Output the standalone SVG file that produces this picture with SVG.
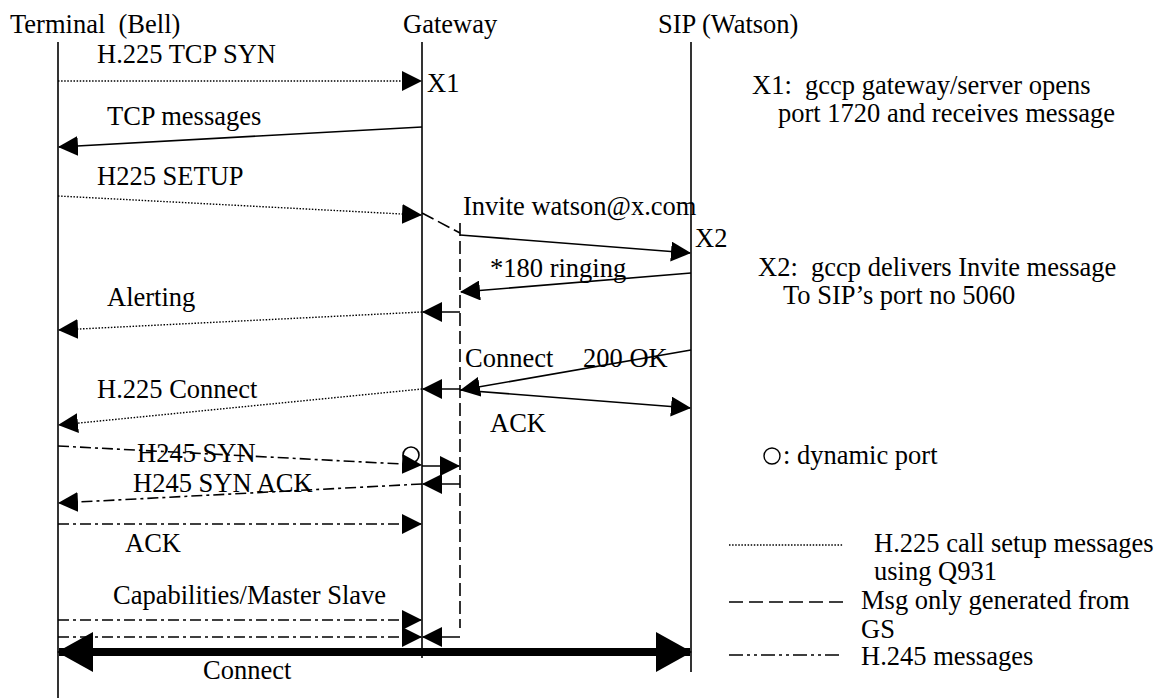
<svg xmlns="http://www.w3.org/2000/svg" width="1162" height="698" viewBox="0 0 1162 698">
<style>
text{font-family:"Liberation Serif","Times New Roman",serif;font-size:26.5px;fill:#000;white-space:pre}
.life{stroke:#000;stroke-width:1.6;fill:none}
.solid{stroke:#000;stroke-width:1.6;fill:none}
.dot{stroke:#000;stroke-width:1.4;fill:none;stroke-dasharray:1.5 1.6}
.dash{stroke:#000;stroke-width:1.6;fill:none;stroke-dasharray:13 5}
.dd{stroke:#000;stroke-width:1.6;fill:none;stroke-dasharray:11 4 3 4}
.thick{stroke:#000;stroke-width:8;fill:none}
</style>
<defs>
<marker id="ah" markerUnits="userSpaceOnUse" markerWidth="20" markerHeight="20" refX="19" refY="10" orient="auto">
<path d="M0,0 L20,10 L0,20 Z" fill="#000"/>
</marker>
<marker id="big" markerUnits="userSpaceOnUse" markerWidth="36" markerHeight="40" refX="34" refY="20" orient="auto-start-reverse">
<path d="M0,0 L36,20 L0,40 Z" fill="#000"/>
</marker>
</defs>
<rect width="1162" height="698" fill="#fff"/>

<g id="terminal">
<text x="10" y="33">Terminal  (Bell)</text>
<line class="life" x1="58" y1="42" x2="58" y2="698"/>
</g>
<g id="gateway">
<text x="403" y="33">Gateway</text>
<line class="life" x1="422" y1="42" x2="422" y2="658"/>
</g>
<g id="sip">
<text x="658" y="33">SIP (Watson)</text>
<line class="life" x1="691" y1="42" x2="691" y2="672"/>
</g>
<g id="gs">
<line class="dash" x1="460" y1="223" x2="460" y2="628"/>
</g>

<g id="connectors">
<line class="dot" x1="58" y1="81" x2="421" y2="81" marker-end="url(#ah)"/>
<line class="solid" x1="422" y1="127" x2="59" y2="147" marker-end="url(#ah)"/>
<line class="dot" x1="58" y1="196" x2="421" y2="215" marker-end="url(#ah)"/>
<line class="dash" x1="422" y1="213" x2="460" y2="233"/>
<line class="solid" x1="460" y1="235" x2="690" y2="253" marker-end="url(#ah)"/>
<line class="solid" x1="691" y1="273" x2="461" y2="292" marker-end="url(#ah)"/>
<line class="solid" x1="460" y1="312" x2="423" y2="312" marker-end="url(#ah)"/>
<line class="dot" x1="422" y1="312" x2="59" y2="330" marker-end="url(#ah)"/>
<line class="solid" x1="691" y1="350" x2="461" y2="390" marker-end="url(#ah)"/>
<line class="solid" x1="460" y1="390" x2="690" y2="408" marker-end="url(#ah)"/>
<line class="solid" x1="460" y1="389" x2="423" y2="389" marker-end="url(#ah)"/>
<line class="dot" x1="422" y1="389" x2="59" y2="425" marker-end="url(#ah)"/>
<line class="dd" x1="58" y1="446" x2="421" y2="465" marker-end="url(#ah)"/>
<circle cx="411" cy="455" r="8" fill="none" stroke="#000" stroke-width="1.6"/>
<line class="solid" x1="422" y1="466" x2="459" y2="466" marker-end="url(#ah)"/>
<line class="solid" x1="460" y1="484" x2="423" y2="484" marker-end="url(#ah)"/>
<line class="dd" x1="422" y1="484" x2="59" y2="503" marker-end="url(#ah)"/>
<line class="dd" x1="58" y1="524" x2="421" y2="524" marker-end="url(#ah)"/>
<line class="dd" x1="58" y1="620" x2="421" y2="620" marker-end="url(#ah)"/>
<line class="dd" x1="58" y1="637" x2="421" y2="637" marker-end="url(#ah)"/>
<line class="solid" x1="460" y1="637" x2="423" y2="637" marker-end="url(#ah)"/>
<line class="thick" x1="59" y1="652" x2="690" y2="652" marker-start="url(#big)" marker-end="url(#big)"/>
</g>

<g id="labels">
<text x="97" y="63">H.225 TCP SYN</text>
<text x="427" y="92">X1</text>
<text x="107" y="125">TCP messages</text>
<text x="97" y="185">H225 SETUP</text>
<text x="463" y="215">Invite watson@x.com</text>
<text x="695" y="247">X2</text>
<text x="490" y="277">*180 ringing</text>
<text x="107" y="306">Alerting</text>
<text x="465" y="367">Connect</text>
<text x="583" y="367">200 OK</text>
<text x="97" y="398">H.225 Connect</text>
<text x="490" y="432">ACK</text>
<text x="137" y="462">H245 SYN</text>
<text x="133" y="492">H245 SYN ACK</text>
<text x="125" y="552">ACK</text>
<text x="113" y="604">Capabilities/Master Slave</text>
<text x="203" y="679">Connect</text>
</g>

<g id="notes">
<text x="752" y="94">X1:  gccp gateway/server opens</text>
<text x="778" y="122">port 1720 and receives message</text>
<text x="758" y="276">X2:  gccp delivers Invite message</text>
<text x="783" y="304">To SIP’s port no 5060</text>
</g>

<g id="legend">
<circle cx="772" cy="456" r="8" fill="none" stroke="#000" stroke-width="1.4"/>
<text x="783" y="464">: dynamic port</text>
<line class="dot" x1="729" y1="545" x2="843" y2="545"/>
<text x="874" y="552">H.225 call setup messages</text>
<text x="874" y="580">using Q931</text>
<line class="dash" x1="729" y1="602" x2="843" y2="602" style="stroke-dasharray:14 6"/>
<text x="861" y="609">Msg only generated from</text>
<text x="861" y="638">GS</text>
<line class="dd" x1="729" y1="655" x2="843" y2="655" style="stroke-dasharray:14 4 3 4 3 4"/>
<text x="861" y="665">H.245 messages</text>
</g>
</svg>
